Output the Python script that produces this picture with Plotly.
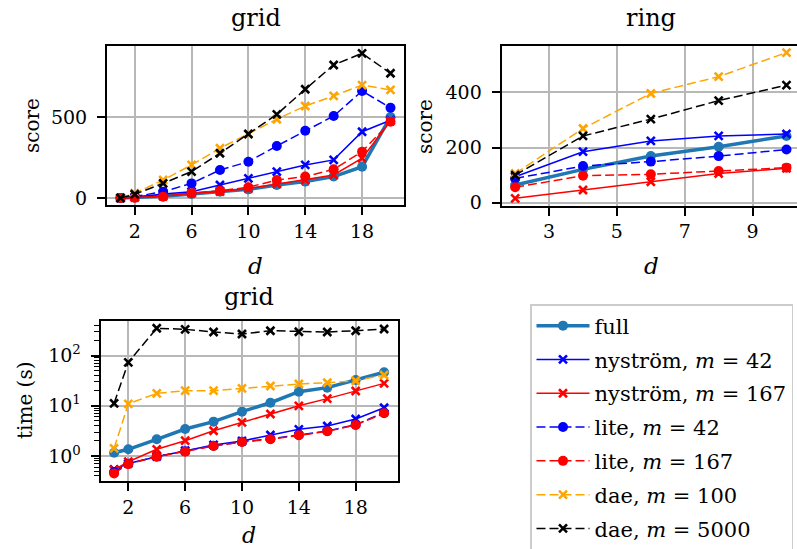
import plotly.graph_objects as go

# ---------------- data ----------------
d_grid = [1, 2, 4, 6, 8, 10, 12, 14, 16, 18, 20]
d_ring = [2, 4, 6, 8, 10]

# grid: score
grid_full = [0, 2, 10, 25, 39, 53, 80, 101, 132, 193, 500]
grid_nys42 = [0, 5, 25, 39, 80, 121, 163, 204, 235, 409, 480]
grid_nys167 = [0, 3, 10, 29, 39, 58, 86, 111, 142, 245, 475]
grid_lite42 = [0, 8, 39, 90, 173, 224, 321, 415, 506, 660, 557]
grid_lite167 = [0, 2, 8, 29, 45, 66, 111, 132, 177, 286, 470]
grid_dae100 = [0, 29, 111, 204, 307, 395, 486, 568, 630, 697, 667]
grid_dae5000 = [0, 23, 90, 163, 276, 395, 516, 671, 821, 893, 770]

# ring: score
ring_full = [64, 121, 169, 203, 242]
ring_nys42 = [94, 185, 224, 242, 249]
ring_nys167 = [16, 46, 76, 106, 125]
ring_lite42 = [88, 133, 149, 169, 193]
ring_lite167 = [56, 98, 103, 115, 127]
ring_dae100 = [106, 269, 396, 457, 544]
ring_dae5000 = [100, 242, 303, 370, 426]

# grid: time (s)
time_full = [1.16, 1.36, 2.15, 3.45, 4.83, 7.64, 11.5, 19.1, 23.0, 32.7, 46.5]
time_nys42 = [0.54, 0.71, 0.97, 1.28, 1.66, 1.99, 2.62, 3.40, 3.96, 5.46, 9.16]
time_nys167 = [0.526, 0.77, 1.36, 2.02, 3.19, 4.68, 6.87, 10.0, 13.9, 19.7, 28.0]
time_lite42 = [0.48, 0.70, 0.98, 1.25, 1.60, 1.92, 2.20, 2.62, 3.15, 4.20, 7.30]
time_lite167 = [0.45, 0.69, 0.97, 1.22, 1.58, 1.90, 2.15, 2.58, 3.10, 4.15, 7.08]
time_dae100 = [1.42, 10.9, 17.7, 20.0, 20.0, 22.3, 24.8, 27.2, 28.8, 31.6, 41.0]
time_dae5000 = [11.2, 73.5, 350, 334, 295, 269, 313, 299, 295, 313, 339]

labels = ["full", "nyström, <i>m</i> = 42", "nyström, <i>m</i> = 167",
          "lite, <i>m</i> = 42", "lite, <i>m</i> = 167",
          "dae, <i>m</i> = 100", "dae, <i>m</i> = 5000"]
colors = ["#1f77b4", "#0000ff", "#ff0000", "#0000ff", "#ff0000", "#ffa500", "#000000"]
dashes = ["solid", "solid", "solid", "9px,4px", "9px,4px", "9px,4px", "9px,4px"]
symbols = ["circle", "x-thin", "x-thin", "circle", "circle", "x-thin", "x-thin"]
lwidths = [3.5, 1.5, 1.5, 1.5, 1.5, 1.5, 1.5]

grid_series = [grid_full, grid_nys42, grid_nys167, grid_lite42, grid_lite167, grid_dae100, grid_dae5000]
ring_series = [ring_full, ring_nys42, ring_nys167, ring_lite42, ring_lite167, ring_dae100, ring_dae5000]
time_series = [time_full, time_nys42, time_nys167, time_lite42, time_lite167, time_dae100, time_dae5000]

W, H = 797, 549
FONT = "DejaVu Serif"

fig = go.Figure()


def marker(i):
    if symbols[i] == "circle":
        return dict(symbol="circle", size=10, color=colors[i],
                    line=dict(width=0, color=colors[i]))
    return dict(symbol="x-thin", size=8, color=colors[i],
                line=dict(width=2.6, color=colors[i]))


for xs, series, ax, show in [(d_grid, grid_series, ("x", "y"), True),
                             (d_ring, ring_series, ("x2", "y2"), False),
                             (d_grid, time_series, ("x3", "y3"), False)]:
    for i, ys in enumerate(series):
        fig.add_trace(go.Scatter(
            x=xs, y=ys, mode="lines+markers", name=labels[i],
            legendgroup=labels[i], showlegend=show,
            line=dict(color=colors[i], width=lwidths[i], dash=dashes[i]),
            marker=marker(i), xaxis=ax[0], yaxis=ax[1],
        ))

tickfont = dict(family=FONT, size=19, color="black")
common = dict(showline=True, mirror=True, linecolor="black", linewidth=2,
              ticks="outside", ticklen=8, tickwidth=2, tickcolor="black",
              showgrid=True, gridcolor="#b8b8b8", gridwidth=1.6,
              zeroline=False, tickfont=tickfont)
xcommon = dict(common, ticklabelstandoff=0)
ycommon = dict(common, ticklabelstandoff=6)


def px_x(a, b):
    return [a / W, b / W]


def px_y(top, bottom):
    return [1 - bottom / H, 1 - top / H]


fig.update_layout(
    width=W, height=H,
    margin=dict(l=0, r=0, t=0, b=0, autoexpand=False),
    paper_bgcolor="white", plot_bgcolor="white",
    font=dict(family=FONT, color="black"),
    xaxis=dict(domain=px_x(107, 404), range=[0.05, 20.95], anchor="y",
               tickvals=[2, 6, 10, 14, 18], **xcommon),
    yaxis=dict(domain=px_y(45.7, 205.2), range=[-44.7, 940], anchor="x",
               tickvals=[0, 500], **ycommon),
    xaxis2=dict(domain=px_x(501.6, 797), range=[1.6, 10.31], anchor="y2",
                tickvals=[3, 5, 7, 9], **xcommon),
    yaxis2=dict(domain=px_y(46, 205.6), range=[-10.4, 568], anchor="x2",
                tickvals=[0, 200, 400], **ycommon),
    xaxis3=dict(domain=px_x(100.6, 397.6), range=[0.05, 20.95], anchor="y3",
                tickvals=[2, 6, 10, 14, 18], **xcommon),
    yaxis3=dict(domain=px_y(321, 480.7), type="log", range=[-0.492, 2.689], anchor="x3",
                tickvals=[1, 10, 100],
                ticktext=["10<sup>0</sup>", "10<sup>1</sup>", "10<sup>2</sup>"],
                minor=dict(ticks="outside", ticklen=5, tickwidth=1.2, tickcolor="black",
                           tickvals=[k * 10 ** e for e in range(-1, 3) for k in range(2, 10)],
                           showgrid=False),
                **ycommon),
    legend=dict(x=530 / W, y=1 - 304 / H, xanchor="left", yanchor="top",
                bgcolor="white", bordercolor="#cccccc", borderwidth=1.5,
                font=dict(family=FONT, size=21, color="black"),
                itemwidth=53, tracegroupgap=3.5),
    showlegend=True,
)

ann = []


def add_text(text, x, y, size, angle=0):
    ann.append(dict(text=text, x=x / W, y=1 - y / H, xref="paper", yref="paper",
                    showarrow=False, xanchor="center", yanchor="middle",
                    textangle=angle, font=dict(family=FONT, size=size, color="black")))


add_text("grid", 255.5, 18, 24)
add_text("ring", 651, 18, 24)
add_text("grid", 249, 297, 24)
add_text("score", 32, 125, 20, -90)
add_text("score", 425, 127, 20, -90)
add_text("time (s)", 25, 401, 20, -90)
add_text("<i>d</i>", 255, 266, 23)
add_text("<i>d</i>", 651, 266, 23)
add_text("<i>d</i>", 249, 535, 22)
fig.update_layout(annotations=ann)

fig.write_html("out.html")
